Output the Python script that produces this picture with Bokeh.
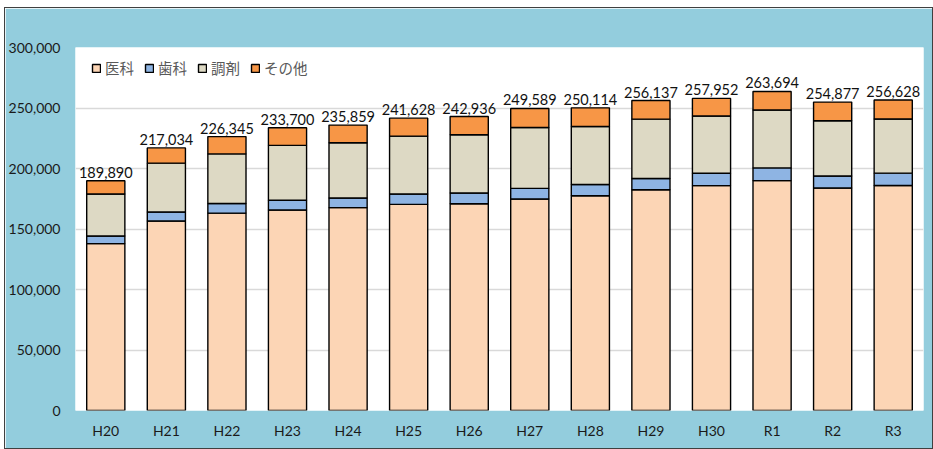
from bokeh.plotting import figure
from bokeh.models import ColumnDataSource, NumeralTickFormatter, Legend
from bokeh.core.properties import value
from bokeh.embed import file_html
from bokeh.resources import INLINE

years = ["H20", "H21", "H22", "H23", "H24", "H25", "H26", "H27", "H28", "H29", "H30", "R1", "R2", "R3"]
series_names = ["医科", "歯科", "調剤", "その他"]
ika = [137920, 156560, 163160, 165730, 167640, 170350, 170910, 174840, 177510, 182470, 185850, 190020, 183930, 185920]
shika = [6350, 7430, 7920, 8000, 8000, 8580, 8830, 8750, 9320, 9320, 10230, 10480, 9900, 10230]
chozai = [34650, 40420, 41000, 45370, 45620, 47850, 48100, 50320, 47850, 49000, 47270, 47850, 45620, 44800]
sonota = [10970, 12620, 14270, 14600, 14600, 14850, 15100, 15680, 15430, 15350, 14600, 15340, 15430, 15680]
totals = [189890, 217034, 226345, 233700, 235859, 241628, 242936, 249589, 250114, 256137, 257952, 263694, 254877, 256628]
y_ticks = [0, 50000, 100000, 150000, 200000, 250000, 300000]

colors = ["#FCD5B5", "#8EB4E3", "#DDD9C4", "#F79646"]
NUM_FONT = "Lato"
CJK_FONT = "Noto Sans CJK JP"

src = ColumnDataSource(dict(year=years, 医科=ika, 歯科=shika, 調剤=chozai, その他=sonota,
                            total=totals, label=[f"{t:,}" for t in totals]))

p = figure(x_range=years, y_range=(0, 300000),
           frame_width=848, frame_height=363,
           output_backend="svg", toolbar_location=None,
           min_border_left=70, min_border_right=9, min_border_top=39, min_border_bottom=38)
p.border_fill_color = "#93CDDD"
p.background_fill_color = "white"
p.outline_line_color = None
p.styles = {"margin-left": "4px", "margin-top": "7px", "border": "1px solid #404040"}

renderers = p.vbar_stack(series_names, x="year", width=0.63, source=src, color=colors,
                         line_color="black", line_width=1.4)

p.text(x="year", y="total", text="label", source=src, text_align="center",
       text_baseline="bottom", y_offset=-3, text_font=value(NUM_FONT),
       text_font_size="14.5px", text_color="#111111")

p.yaxis.ticker = y_ticks
p.yaxis.formatter = NumeralTickFormatter(format="0,0")
for ax in (p.xaxis[0], p.yaxis[0]):
    ax.axis_line_color = None
    ax.major_tick_line_color = None
    ax.minor_tick_line_color = None
    ax.major_tick_out = 0
    ax.major_tick_in = 0
    ax.minor_tick_out = 0
    ax.minor_tick_in = 0
    ax.major_label_text_font = NUM_FONT
    ax.major_label_text_font_size = "14px"
    ax.major_label_text_color = "#1a1a1a"
p.yaxis.major_label_standoff = 15
p.xaxis.major_label_standoff = 11

p.xgrid.grid_line_color = None
p.ygrid.grid_line_color = "#D9D9D9"
p.ygrid.grid_line_width = 1.5

legend = Legend(items=[(n, [r]) for n, r in zip(series_names, renderers)],
                location=(16, 332), orientation="horizontal")
legend.label_text_font = CJK_FONT
legend.label_text_font_size = "14.5px"
legend.label_text_color = "#595959"
legend.glyph_width = 10
legend.glyph_height = 10
legend.label_standoff = 4
legend.spacing = 10
legend.padding = 4
legend.margin = 0
legend.border_line_color = None
legend.background_fill_alpha = 0
p.add_layout(legend)

open("out.html", "w").write(file_html(p, INLINE))
